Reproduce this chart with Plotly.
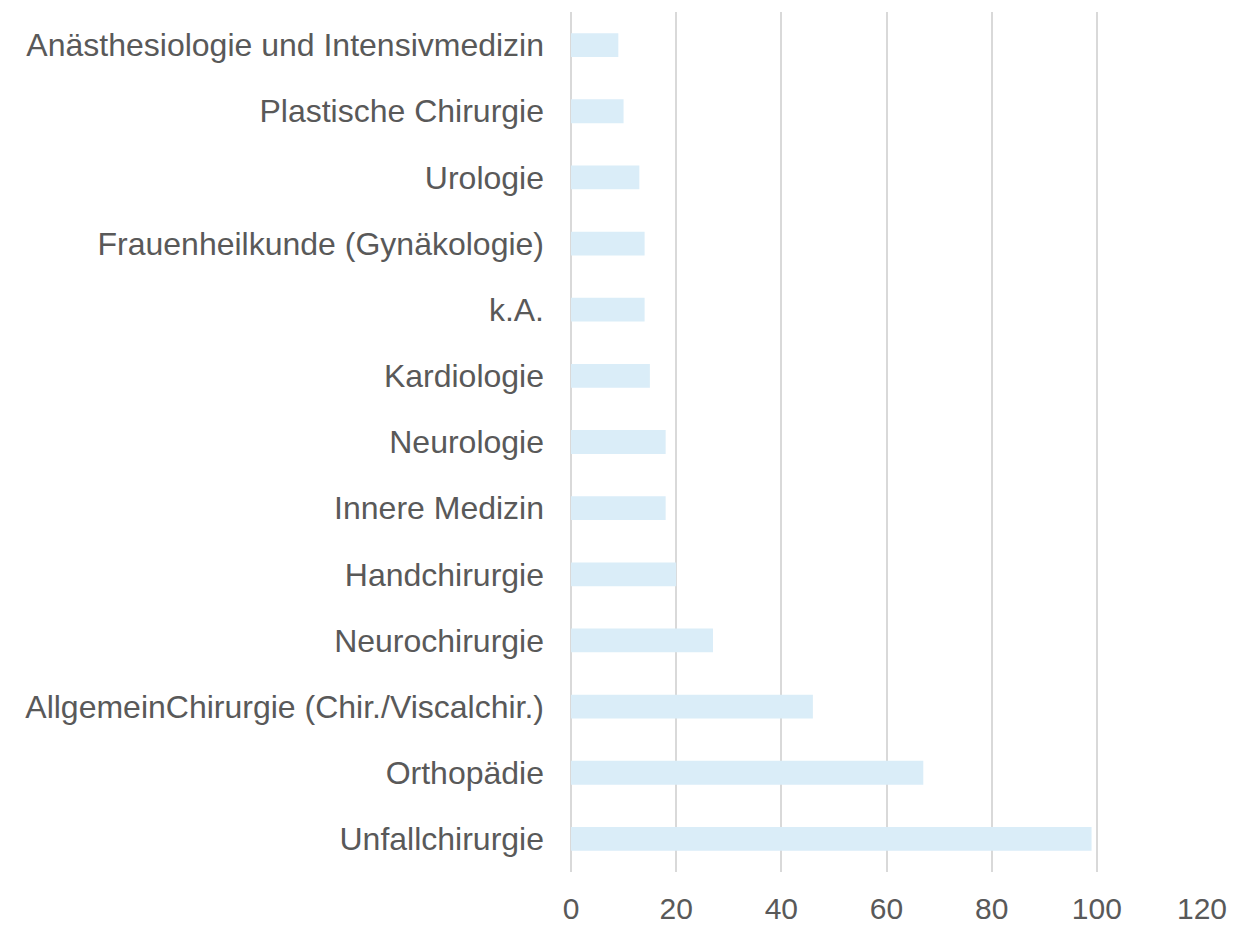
import plotly.graph_objects as go

categories = [
    "Unfallchirurgie",
    "Orthopädie",
    "AllgemeinChirurgie (Chir./Viscalchir.)",
    "Neurochirurgie",
    "Handchirurgie",
    "Innere Medizin",
    "Neurologie",
    "Kardiologie",
    "k.A.",
    "Frauenheilkunde (Gynäkologie)",
    "Urologie",
    "Plastische Chirurgie",
    "Anästhesiologie und Intensivmedizin",
]
values = [99, 67, 46, 27, 20, 18, 18, 15, 14, 14, 13, 10, 9]
x_ticks = [0, 20, 40, 60, 80, 100, 120]

fig = go.Figure(go.Bar(
    x=values, y=categories, orientation="h",
    marker=dict(color="#DAEDF8", line=dict(width=0)),
    width=0.36,
))

fig.update_layout(
    width=1256, height=926,
    margin=dict(l=571, r=54, t=12, b=54),
    paper_bgcolor="white", plot_bgcolor="white",
    font=dict(family="Arial, Liberation Sans, sans-serif", size=30, color="#595959"),
    showlegend=False,
)
fig.update_xaxes(
    range=[0, 120], tickvals=x_ticks, showgrid=True, gridcolor="#D9D9D9", gridwidth=1.5,
    zeroline=True, zerolinecolor="#D9D9D9", zerolinewidth=1.5,
    showline=False, ticks="", ticklabelstandoff=16, automargin=False,
    tickfont=dict(size=30, color="#595959"),
)
fig.update_yaxes(
    showgrid=False, showline=False, ticks="", ticklabelstandoff=26, automargin=False,
    range=[-0.5, len(categories) - 0.5],
    tickfont=dict(size=32, color="#595959"),
)

fig.write_html(
    "out.html",
    config={"displayModeBar": False},
    post_script="document.body.style.margin='0';document.body.style.overflow='hidden';",
)
